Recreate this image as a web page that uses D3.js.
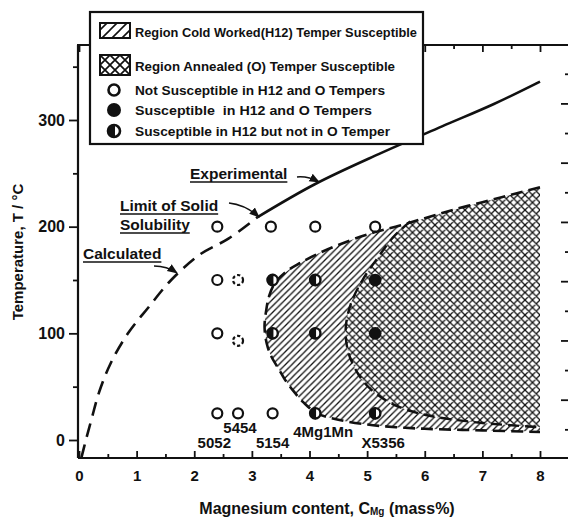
<!DOCTYPE html>
<html><head><meta charset="utf-8">
<script src="https://cdn.jsdelivr.net/npm/d3@7"></script>
<style>
body{margin:0;background:#fff}
svg{display:block}
text{font-family:"Liberation Sans",Arial,Helvetica,sans-serif;font-weight:bold;fill:#111}
</style>
</head><body>
<svg id="c" width="568" height="518"></svg>
<script>
// ---------------- DATA ----------------
const xTicks = [0,1,2,3,4,5,6,7,8];
const xMinor = [0.5,1.5,2.5,3.5,4.5,5.5,6.5,7.5];
const yTicks = [0,100,200,300];
const yMinor = [50,150,250,350];
const fTicks = [100,200,300,400,500,600];          // right axis (°F), unlabeled
const fMinor = [50,150,250,350,450,550,650];

// Limit of solid solubility
const calculated = [[0.04,-17],[0.12,0],[0.22,20],[0.35,45],[0.55,72],[0.85,100],[1.2,124],[1.6,150],[2.1,174],[2.6,189],[3.1,209]];
const experimental = [[3.1,209],[4.1,240],[5.2,268],[6.3,294],[7.2,315],[8.0,336]];

// Region cold worked (H12) susceptible: upper and lower boundary
const h12Upper = [[3.22,106],[3.25,122],[3.3,135],[3.4,147],[3.6,158],[3.84,166],[4.2,176],[4.7,187],[5.14,195],[5.57,201],[6.0,208],[6.44,215],[7.0,223],[7.5,230],[8.0,237]];
const h12Lower = [[3.22,106],[3.26,90],[3.34,78],[3.45,68],[3.57,57],[3.72,46],[3.9,35],[4.13,25],[4.5,19],[5.0,14.5],[5.5,12],[6.0,10.5],[7.0,9],[8.0,7.5]];
// Region annealed (O) susceptible: inner boundary
const oInner = [[5.75,205],[5.45,190],[5.2,172],[4.92,150],[4.72,128],[4.63,106],[4.66,85],[4.78,68],[4.98,52],[5.3,38],[5.65,29],[6.15,22],[7.0,16],[8.0,12]];

// Test points
const notSusceptible = [[2.4,200],[3.33,200],[4.1,200],[5.14,200],[2.4,150],[2.4,100],[2.4,25],[2.76,25],[3.36,25]];
const notSuscUncertain = [[2.76,150],[2.76,93]];
const suscBoth = [[5.14,150],[5.14,100]];
const suscH12Only = [[3.36,150],[4.1,150],[3.36,100],[4.1,100],[4.1,25],[5.14,25]];

const alloyNames = ["5052","5454","5154","4Mg1Mn","X5356"];
const alloyX = [2.4,2.76,3.36,4.1,5.14];

const legendLabels = [
  "Region Cold Worked(H12) Temper Susceptible",
  "Region Annealed (O) Temper Susceptible",
  "Not Susceptible in H12 and O Tempers",
  "Susceptible  in H12 and O Tempers",
  "Susceptible in H12 but not in O Temper"
];

// ---------------- LAYOUT ----------------
const svg = d3.select("#c");
const frame = {l:78, r:568, t:45, b:458};
const x = d3.scaleLinear().domain([0,8]).range([79,540]);
const y = d3.scaleLinear().domain([0,300]).range([440,120]);
const yF = d3.scaleLinear().domain([32,572]).range([440,120]);
const ink = "#111";

const defs = svg.append("defs");
const hatch = defs.append("pattern").attr("id","hatch").attr("patternUnits","userSpaceOnUse").attr("width",6.5).attr("height",6.5);
hatch.append("rect").attr("width",6.5).attr("height",6.5).attr("fill","#fff");
hatch.append("path").attr("d","M-1,1 L1,-1 M0,6.5 L6.5,0 M5.5,7.5 L7.5,5.5").attr("stroke",ink).attr("stroke-width",1.3);
const cross = defs.append("pattern").attr("id","cross").attr("patternUnits","userSpaceOnUse").attr("width",7.5).attr("height",7.5);
cross.append("rect").attr("width",7.5).attr("height",7.5).attr("fill","#fff");
cross.append("path").attr("d","M-1,1 L1,-1 M0,7.5 L7.5,0 M6.5,8.5 L8.5,6.5 M-1,6.5 L1,8.5 M0,0 L7.5,7.5 M6.5,-1 L8.5,1").attr("stroke",ink).attr("stroke-width",1.3);
// legend patterns (coarser)
const lhatch = defs.append("pattern").attr("id","lhatch").attr("patternUnits","userSpaceOnUse").attr("width",10).attr("height",10);
lhatch.append("rect").attr("width",10).attr("height",10).attr("fill","#fff");
lhatch.append("path").attr("d","M-1,1 L1,-1 M0,10 L10,0 M9,11 L11,9").attr("stroke",ink).attr("stroke-width",1.6);
const lcross = defs.append("pattern").attr("id","lcross").attr("patternUnits","userSpaceOnUse").attr("width",10).attr("height",10).attr("x",100).attr("y",55);
lcross.append("rect").attr("width",10).attr("height",10).attr("fill","#fff");
lcross.append("path").attr("d","M0,10 L10,0 M0,0 L10,10").attr("stroke",ink).attr("stroke-width",1.7);

const curve = d3.line().x(d=>x(d[0])).y(d=>y(d[1])).curve(d3.curveCatmullRom.alpha(0.5));

// H12 outer region
const outer = h12Upper.slice().reverse().concat(h12Lower.slice(1));
const outerPath = curve(outer) + "Z";
defs.append("clipPath").attr("id","outerClip").append("path").attr("d",outerPath);
svg.append("path").attr("d",outerPath).attr("fill","url(#hatch)");

// O region: right of inner curve, clipped by outer region
const oPath = curve(oInner) + "L" + x(8) + "," + y(300) + "L" + x(oInner[0][0]) + "," + y(300) + "Z";
svg.append("path").attr("d",oPath).attr("fill","url(#cross)").attr("clip-path","url(#outerClip)");

// dashed boundaries
svg.append("path").attr("d",curve(outer)).attr("fill","none").attr("stroke",ink).attr("stroke-width",2.6).attr("stroke-dasharray","12,6");
svg.append("path").attr("d",curve(oInner)).attr("fill","none").attr("stroke",ink).attr("stroke-width",2.4).attr("stroke-dasharray","11,6");

// solubility curves
svg.append("path").attr("d",curve(calculated)).attr("fill","none").attr("stroke",ink).attr("stroke-width",2.6).attr("stroke-dasharray","14,8");
svg.append("path").attr("d",curve(experimental)).attr("fill","none").attr("stroke",ink).attr("stroke-width",2.6);

// ---------------- FRAME & AXES ----------------
const fr = svg.append("g").attr("stroke",ink).attr("stroke-width",2.2);
fr.append("line").attr("x1",frame.l).attr("x2",frame.l).attr("y1",frame.t).attr("y2",frame.b);
fr.append("line").attr("x1",frame.l).attr("x2",frame.r).attr("y1",frame.b).attr("y2",frame.b);
fr.append("line").attr("x1",frame.l-1).attr("x2",frame.r).attr("y1",frame.t).attr("y2",frame.t);

function styleAxis(g){
  g.select(".domain").remove();
  g.selectAll("line").attr("stroke",ink).attr("stroke-width",1.8);
  g.attr("font-size",15).attr("font-family","'Liberation Sans',Arial,sans-serif").attr("font-weight","bold");
  g.selectAll("text").attr("fill",ink);
}
svg.append("g").attr("transform",`translate(0,${frame.b})`)
  .call(d3.axisBottom(x).tickValues(xTicks).tickSize(-7).tickPadding(12).tickFormat(d3.format("d"))).call(styleAxis);
svg.append("g").attr("transform",`translate(0,${frame.b})`)
  .call(d3.axisBottom(x).tickValues(xMinor).tickSize(-4).tickFormat("")).call(styleAxis);
svg.append("g").attr("transform",`translate(0,${frame.t})`)
  .call(d3.axisTop(x).tickValues(xTicks).tickSize(-7).tickFormat("")).call(styleAxis);
svg.append("g").attr("transform",`translate(0,${frame.t})`)
  .call(d3.axisTop(x).tickValues(xMinor).tickSize(-4).tickFormat("")).call(styleAxis);
svg.append("g").attr("transform",`translate(${frame.l},0)`)
  .call(d3.axisLeft(y).tickValues(yTicks).tickSize(9).tickPadding(4).tickFormat(d3.format("d"))).call(styleAxis)
  .call(g=>g.selectAll("text").attr("font-size",16));
svg.append("g").attr("transform",`translate(${frame.l},0)`)
  .call(d3.axisLeft(y).tickValues(yMinor).tickSize(5).tickFormat("")).call(styleAxis);
svg.append("g").attr("transform",`translate(${frame.r},0)`)
  .call(d3.axisRight(yF).tickValues(fTicks).tickSize(-7).tickFormat("")).call(styleAxis);
svg.append("g").attr("transform",`translate(${frame.r},0)`)
  .call(d3.axisRight(yF).tickValues(fMinor).tickSize(-3).tickFormat("")).call(styleAxis);

// axis titles
const xt = svg.append("text").attr("x",327).attr("y",514).attr("text-anchor","middle").attr("font-size",16);
xt.append("tspan").text("Magnesium content, C");
xt.append("tspan").attr("font-size",10).attr("dy",1).text("Mg");
xt.append("tspan").attr("dy",-1).text(" (mass%)");
svg.append("text").attr("transform","translate(23,252) rotate(-90)").attr("text-anchor","middle").attr("font-size",15).text("Temperature, T / °C");

// ---------------- POINTS ----------------
const pts = svg.append("g");
pts.selectAll(".ns").data(notSusceptible).join("circle").attr("cx",d=>x(d[0])).attr("cy",d=>y(d[1])).attr("r",5)
  .attr("fill","#fff").attr("stroke",ink).attr("stroke-width",2.2);
pts.selectAll(".nu").data(notSuscUncertain).join("circle").attr("cx",d=>x(d[0])).attr("cy",d=>y(d[1])).attr("r",5)
  .attr("fill","#fff").attr("stroke",ink).attr("stroke-width",2.2).attr("stroke-dasharray","3.2,2.3");
pts.selectAll(".sb").data(suscBoth).join("circle").attr("cx",d=>x(d[0])).attr("cy",d=>y(d[1])).attr("r",6.3).attr("fill",ink);
const half = pts.selectAll(".sh").data(suscH12Only).join("g").attr("transform",d=>`translate(${x(d[0])},${y(d[1])})`);
half.append("circle").attr("r",5.2).attr("fill","#fff").attr("stroke",ink).attr("stroke-width",2.4);
half.append("path").attr("d","M0.8,-6.2 A6.2,6.2 0 0 0 0.8,6.2 Z").attr("fill",ink);

// alloy labels
const alloyDx = [-3,2,0,8,8];
const alloyBase = [448,433,448,437,448];
svg.selectAll(".al").data(alloyNames).join("text").attr("x",(d,i)=>x(alloyX[i])+alloyDx[i]).attr("y",(d,i)=>alloyBase[i])
  .attr("text-anchor","middle").attr("font-size",15).text(d=>d);

// ---------------- ANNOTATIONS ----------------
const notes = [
  {t:"Experimental", x:190, y:179},
  {t:"Limit of Solid", x:120, y:211},
  {t:"Solubility", x:120, y:230},
  {t:"Calculated", x:83, y:259}
];
notes.forEach(n=>{
  const t = svg.append("text").attr("x",n.x).attr("y",n.y).attr("font-size",15.5).text(n.t);
  const w = t.node().getComputedTextLength();
  svg.append("line").attr("x1",n.x).attr("x2",n.x+w).attr("y1",n.y+3).attr("y2",n.y+3).attr("stroke",ink).attr("stroke-width",1.5);
});
defs.append("marker").attr("id","ah").attr("viewBox","0 0 10 10").attr("refX",9).attr("refY",5).attr("markerWidth",7).attr("markerHeight",7).attr("orient","auto")
  .append("path").attr("d","M0,1 L10,5 L0,9 Z").attr("fill",ink);
const arrows = [
  "M297,177 Q308,176 319,182",
  "M229,203 Q246,205 259,217",
  "M154,266 Q167,266 177,273"
];
svg.selectAll(".ar").data(arrows).join("path").attr("d",d=>d).attr("fill","none").attr("stroke",ink).attr("stroke-width",1.5).attr("marker-end","url(#ah)");

// ---------------- LEGEND ----------------
const lg = svg.append("g");
lg.append("rect").attr("x",90).attr("y",12).attr("width",333).attr("height",132).attr("fill","#fff").attr("stroke",ink).attr("stroke-width",2.2);
lg.append("rect").attr("x",100).attr("y",23).attr("width",30).attr("height",15).attr("fill","url(#lhatch)").attr("stroke",ink).attr("stroke-width",2);
lg.append("rect").attr("x",100).attr("y",55).attr("width",30).attr("height",20).attr("fill","url(#lcross)").attr("stroke",ink).attr("stroke-width",2);
const ly = [37,71,95,115,136];
const lw = [282,260,250,237,255];
lg.append("circle").attr("cx",114).attr("cy",ly[2]-5).attr("r",5.5).attr("fill","#fff").attr("stroke",ink).attr("stroke-width",2.6);
lg.append("circle").attr("cx",114).attr("cy",ly[3]-5).attr("r",7).attr("fill",ink);
lg.append("circle").attr("cx",114).attr("cy",ly[4]-5).attr("r",6).attr("fill","#fff").attr("stroke",ink).attr("stroke-width",2.6);
lg.append("path").attr("d",`M115,${ly[4]-12} A7,7 0 0 0 115,${ly[4]+2} Z`).attr("fill",ink);
lg.selectAll(".lt").data(legendLabels).join("text").attr("x",135).attr("y",(d,i)=>ly[i])
  .attr("font-size",12.5).attr("textLength",(d,i)=>lw[i]).attr("lengthAdjust","spacingAndGlyphs")
  .style("white-space","pre").text(d=>d);
</script>
</body></html>
